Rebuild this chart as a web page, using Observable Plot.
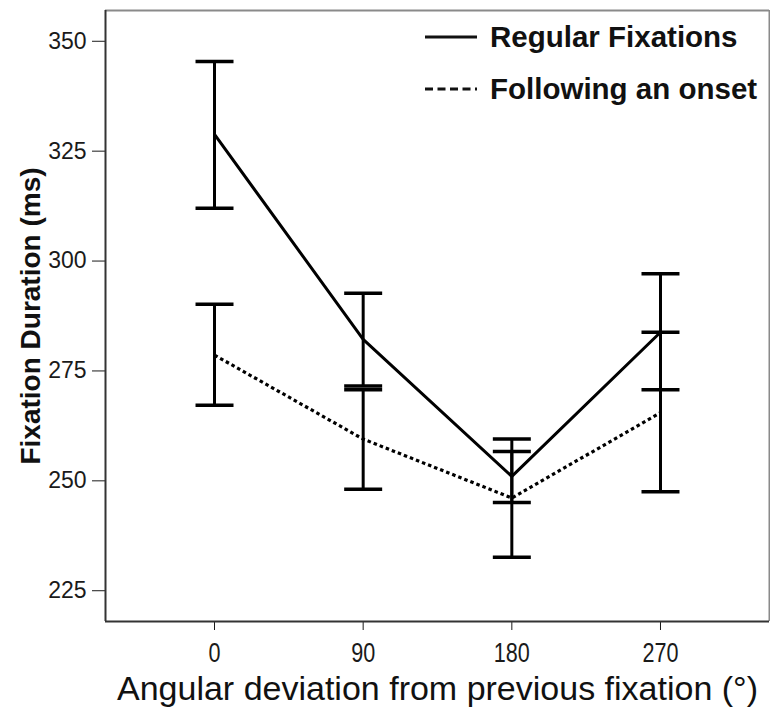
<!DOCTYPE html>
<html>
<head>
<meta charset="utf-8">
<script src="https://cdn.jsdelivr.net/npm/d3@7"></script>
<script src="https://cdn.jsdelivr.net/npm/@observablehq/plot@0.6"></script>
<style>
  body { margin: 0; background: #fff; }
  #wrap { position: relative; width: 770px; height: 715px; font-family: "Liberation Sans", Arial, sans-serif; }
  #legend { position: absolute; left: 425px; top: 11px; }
  .row { display: flex; align-items: center; height: 52px; }
  .row svg { margin-right: 13px; }
  .row span { font-weight: bold; font-size: 29.5px; line-height: 52px; color: #111; white-space: nowrap; }
</style>
</head>
<body>
<div id="wrap">
  <div id="chart"></div>
  <div id="legend"></div>
</div>
<script>
// Data
const angles = [0, 90, 180, 270];
const regularMean = [328.8, 282.2, 251.0, 283.8];
const regularLow  = [312.0, 271.6, 245.1, 270.7];
const regularHigh = [345.4, 292.7, 256.7, 297.1];
const onsetMean = [278.6, 259.5, 246.1, 265.5];
const onsetLow  = [267.2, 248.1, 232.6, 247.5];
const onsetHigh = [290.2, 270.7, 259.5, 283.8];
const seriesNames = ["Regular Fixations", "Following an onset"];
const xTicks = [0, 90, 180, 270];
const yTicks = [225, 250, 275, 300, 325, 350];
const xDomain = [-66, 336];
const yDomain = [218, 357];
const xTitle = "Angular deviation from previous fixation (°)";
const yTitle = "Fixation Duration (ms)";
const capHalf = 11.5; // half-width of error-bar caps, in x units

const rows = [];
angles.forEach((a, i) => {
  rows.push({series: seriesNames[0], x: a, mean: regularMean[i], lo: regularLow[i], hi: regularHigh[i]});
});
angles.forEach((a, i) => {
  rows.push({series: seriesNames[1], x: a, mean: onsetMean[i], lo: onsetLow[i], hi: onsetHigh[i]});
});
const regRows = rows.filter(d => d.series === seriesNames[0]);
const onsRows = rows.filter(d => d.series === seriesNames[1]);
const caps = rows.flatMap(d => [{x: d.x, y: d.lo}, {x: d.x, y: d.hi}]);

const chart = Plot.plot({
  width: 770,
  height: 715,
  marginLeft: 105,
  marginRight: 1,
  marginTop: 10,
  marginBottom: 94,
  style: {fontFamily: "'Liberation Sans', Arial, sans-serif", fontSize: "23px", color: "#1a1a1a", background: "#fff"},
  x: {domain: xDomain, ticks: xTicks, tickSize: 9, tickPadding: 12, label: null, tickFormat: d => String(d)},
  y: {domain: yDomain, ticks: yTicks, tickSize: 13, tickPadding: 6, label: null},
  marks: [
    // frame
    Plot.ruleY([yDomain[1]], {stroke: "#8a8a8a", strokeWidth: 2}),
    Plot.ruleX([xDomain[1]], {stroke: "#8a8a8a", strokeWidth: 2}),
    Plot.ruleY([yDomain[0]], {stroke: "#333", strokeWidth: 2}),
    Plot.ruleX([xDomain[0]], {stroke: "#333", strokeWidth: 2}),
    // error bars
    Plot.ruleX(rows, {x: "x", y1: "lo", y2: "hi", stroke: "#000", strokeWidth: 3}),
    Plot.link(caps, {x1: d => d.x - capHalf, x2: d => d.x + capHalf, y1: "y", y2: "y", stroke: "#000", strokeWidth: 3.5}),
    // lines
    Plot.line(regRows, {x: "x", y: "mean", stroke: "#000", strokeWidth: 3}),
    Plot.line(onsRows, {x: "x", y: "mean", stroke: "#000", strokeWidth: 3.2, strokeDasharray: "3.5,3", strokeLinecap: "butt", strokeLinejoin: "miter"}),
    // axis titles
    Plot.text([yTitle], {frameAnchor: "left", textAnchor: "middle", rotate: -90, dx: -74, fontSize: 28, fontWeight: "bold", fill: "#111"}),
    Plot.text([xTitle], {frameAnchor: "bottom", dy: 78, fontSize: 34, fill: "#111"})
  ]
});
document.getElementById("chart").appendChild(chart);

// x tick labels are taller and narrower in the reference: compress horizontally about each label's anchor
d3.select(chart).selectAll('g[aria-label^="x-axis"] text').each(function() {
  const t = d3.select(this);
  t.style("font-size", "27px");
  const tr = t.attr("transform") || "";
  const x = +(t.attr("x") || 0);
  t.attr("x", null);
  t.attr("transform", `${tr} translate(${x},0) scale(0.8,1)`);
});

// legend
const legend = document.getElementById("legend");
const dashes = ["none", "8,4.5"];
seriesNames.forEach((name, i) => {
  const row = document.createElement("div");
  row.className = "row";
  row.innerHTML = `<svg width="52" height="8"><line x1="0" y1="4" x2="52" y2="4" stroke="#111" stroke-width="3.2" stroke-dasharray="${dashes[i]}"/></svg><span>${name}</span>`;
  legend.appendChild(row);
});
</script>
</body>
</html>
